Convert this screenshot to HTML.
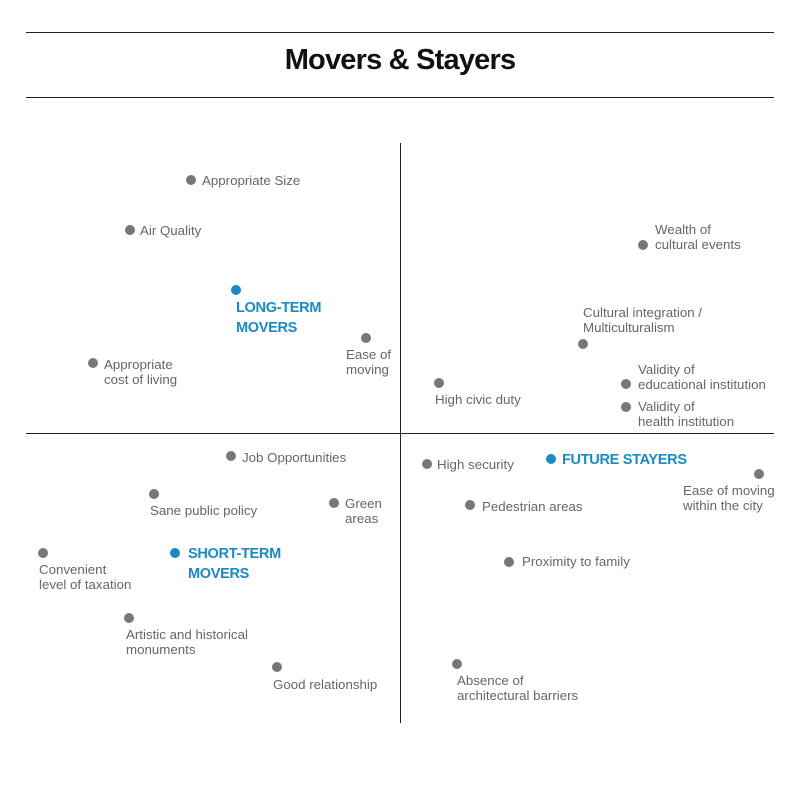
<!DOCTYPE html>
<html><head><meta charset="utf-8"><style>
body{margin:0;width:800px;height:800px;background:#fff;position:relative;font-family:"Liberation Sans",sans-serif;overflow:hidden}
.hl{position:absolute;left:26px;width:748px;height:1px;background:#222}
.d{position:absolute;width:10px;height:10px;border-radius:50%;background:#777;margin:-5px 0 0 -5px}
.b{background:#1a8ac6}
.t{position:absolute;font-size:13.3px;line-height:15px;color:#666;white-space:nowrap;letter-spacing:0}
.bl{color:#1a8ac6;font-weight:bold;font-size:14.5px;line-height:20px;letter-spacing:-0.3px}
</style></head><body>
<div class="hl" style="top:32px"></div>
<div class="hl" style="top:97px"></div>
<div style="position:absolute;top:44px;left:0;width:800px;text-align:center;font-weight:bold;font-size:29px;letter-spacing:-0.8px;color:#111">Movers &amp; Stayers</div>
<div style="position:absolute;left:400px;top:143px;width:1px;height:580px;background:#222"></div>
<div class="hl" style="top:433px"></div>

<div class="d" style="left:191px;top:180px"></div><div class="t" style="left:202px;top:173px">Appropriate Size</div>
<div class="d" style="left:130px;top:230px"></div><div class="t" style="left:140px;top:223px">Air Quality</div>
<div class="d" style="left:643px;top:245px"></div><div class="t" style="left:655px;top:222px">Wealth of<br>cultural events</div>
<div class="d b" style="left:236px;top:290px"></div><div class="t bl" style="left:236px;top:298px">LONG-TERM<br>MOVERS</div>
<div class="d" style="left:583px;top:344px"></div><div class="t" style="left:583px;top:305px">Cultural integration /<br>Multiculturalism</div>
<div class="d" style="left:366px;top:338px"></div><div class="t" style="left:346px;top:347px">Ease of<br>moving</div>
<div class="d" style="left:93px;top:363px"></div><div class="t" style="left:104px;top:357px">Appropriate<br>cost of living</div>
<div class="d" style="left:439px;top:383px"></div><div class="t" style="left:435px;top:392px">High civic duty</div>
<div class="d" style="left:626px;top:384px"></div><div class="t" style="left:638px;top:362px">Validity of<br>educational institution</div>
<div class="d" style="left:626px;top:407px"></div><div class="t" style="left:638px;top:399px">Validity of<br>health institution</div>
<div class="d" style="left:231px;top:456px"></div><div class="t" style="left:242px;top:450px">Job Opportunities</div>
<div class="d" style="left:427px;top:464px"></div><div class="t" style="left:437px;top:457px">High security</div>
<div class="d b" style="left:551px;top:459px"></div><div class="t bl" style="left:562px;top:450px">FUTURE STAYERS</div>
<div class="d" style="left:759px;top:474px"></div><div class="t" style="left:683px;top:483px">Ease of moving<br>within the city</div>
<div class="d" style="left:154px;top:494px"></div><div class="t" style="left:150px;top:503px">Sane public policy</div>
<div class="d" style="left:334px;top:503px"></div><div class="t" style="left:345px;top:496px">Green<br>areas</div>
<div class="d" style="left:470px;top:505px"></div><div class="t" style="left:482px;top:499px">Pedestrian areas</div>
<div class="d" style="left:43px;top:553px"></div><div class="t" style="left:39px;top:562px">Convenient<br>level of taxation</div>
<div class="d b" style="left:175px;top:553px"></div><div class="t bl" style="left:188px;top:544px">SHORT-TERM<br>MOVERS</div>
<div class="d" style="left:509px;top:562px"></div><div class="t" style="left:522px;top:554px">Proximity to family</div>
<div class="d" style="left:129px;top:618px"></div><div class="t" style="left:126px;top:627px">Artistic and historical<br>monuments</div>
<div class="d" style="left:277px;top:667px"></div><div class="t" style="left:273px;top:677px">Good relationship</div>
<div class="d" style="left:457px;top:664px"></div><div class="t" style="left:457px;top:673px">Absence of<br>architectural barriers</div>
</body></html>
